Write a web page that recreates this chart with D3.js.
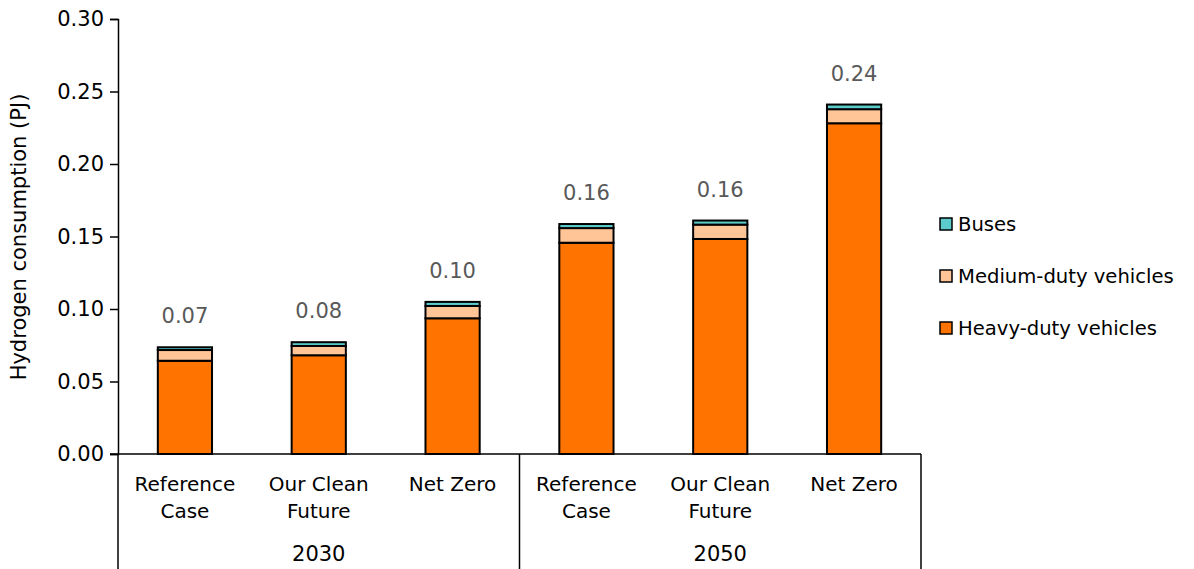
<!DOCTYPE html>
<html>
<head>
<meta charset="utf-8">
<script src="https://cdn.jsdelivr.net/npm/d3@7"></script>
<style>
  html, body { margin: 0; padding: 0; background: #fff; }
  svg { display: block; font-family: "DejaVu Sans", sans-serif; }
</style>
</head>
<body>
<svg id="chart" width="1194" height="569"></svg>
<script>
// Scenario categories, grouped by year
const scenarios = ["Reference Case", "Our Clean Future", "Net Zero", "Reference Case", "Our Clean Future", "Net Zero"];
const years = ["2030", "2030", "2030", "2050", "2050", "2050"];
const yearGroups = ["2030", "2050"];

// Hydrogen consumption by vehicle class (PJ)
const heavyDuty = [0.0643, 0.0681, 0.0936, 0.1457, 0.1483, 0.2281];
const mediumDuty = [0.0074, 0.0064, 0.0085, 0.0101, 0.0099, 0.0097];
const buses = [0.0019, 0.0026, 0.0028, 0.0028, 0.0028, 0.0032];

const yTicks = [0, 0.05, 0.10, 0.15, 0.20, 0.25, 0.30];
const seriesNames = ["Heavy-duty vehicles", "Medium-duty vehicles", "Buses"];
const seriesColors = ["#FF7300", "#FFC597", "#5CCBCB"];

const svg = d3.select("#chart");
const margin = { left: 118, right: 921, top: 19, bottom: 454 };

const rows = scenarios.map((s, i) => ({
  key: i, scenario: s, year: years[i],
  "Heavy-duty vehicles": heavyDuty[i],
  "Medium-duty vehicles": mediumDuty[i],
  "Buses": buses[i]
}));

const x = d3.scaleBand().domain(rows.map(d => d.key))
  .range([margin.left, margin.right]).paddingInner(0.595).paddingOuter(0.2975);
const y = d3.scaleLinear().domain([0, 0.30]).range([margin.bottom, margin.top]);

const stack = d3.stack().keys(seriesNames)(rows);

// Stacked bars
const layers = svg.append("g").selectAll("g").data(stack).join("g")
  .attr("fill", (d, i) => seriesColors[i]);
layers.selectAll("rect").data(d => d).join("rect")
  .attr("x", d => x(d.data.key))
  .attr("width", x.bandwidth())
  .attr("y", d => y(d[1]))
  .attr("height", d => y(d[0]) - y(d[1]))
  .attr("stroke", "#000").attr("stroke-width", 2);

// Y axis
const yAxis = d3.axisLeft(y).tickValues(yTicks).tickFormat(d3.format(".2f")).tickSize(8).tickPadding(6);
const yg = svg.append("g").attr("transform", `translate(${margin.left},0)`).call(yAxis);
yg.select(".domain").attr("stroke", "#000").attr("stroke-width", 1.5);
yg.selectAll(".tick line").attr("stroke", "#000").attr("stroke-width", 1.5);
yg.selectAll(".tick text").attr("font-size", 21).attr("fill", "#000")
  .attr("font-family", "DejaVu Sans, sans-serif");

// X axis line
svg.append("line").attr("x1", margin.left - 8).attr("x2", margin.right)
  .attr("y1", margin.bottom).attr("y2", margin.bottom)
  .attr("stroke", "#000").attr("stroke-width", 1.5);

// Group separators
const sepX = [margin.left, (x(2) + x.bandwidth() + x(3)) / 2, margin.right];
svg.append("g").selectAll("line").data(sepX).join("line")
  .attr("x1", d => d).attr("x2", d => d)
  .attr("y1", margin.bottom).attr("y2", 569)
  .attr("stroke", "#000").attr("stroke-width", 1.5);

// Scenario labels
const catLabels = svg.append("g").selectAll("text").data(rows).join("text")
  .attr("text-anchor", "middle").attr("font-size", 20).attr("fill", "#000");
catLabels.each(function (d) {
  const cx = x(d.key) + x.bandwidth() / 2;
  const words = d.scenario === "Net Zero" ? ["Net Zero"]
    : d.scenario === "Reference Case" ? ["Reference", "Case"] : ["Our Clean", "Future"];
  d3.select(this).selectAll("tspan").data(words).join("tspan")
    .attr("x", cx).attr("y", (w, i) => 491 + i * 27).text(w => w);
});

// Year labels
svg.append("g").selectAll("text").data(yearGroups).join("text")
  .attr("x", (g, i) => (sepX[i] + sepX[i + 1]) / 2)
  .attr("y", 561).attr("text-anchor", "middle")
  .attr("font-size", 21).attr("fill", "#000").text(g => g);

// Total labels above bars
svg.append("g").selectAll("text").data(rows).join("text")
  .attr("x", d => x(d.key) + x.bandwidth() / 2)
  .attr("y", d => y(d["Heavy-duty vehicles"] + d["Medium-duty vehicles"] + d["Buses"]) - 24)
  .attr("text-anchor", "middle").attr("font-size", 21).attr("fill", "#595959")
  .text(d => d3.format(".2f")(d["Heavy-duty vehicles"] + d["Medium-duty vehicles"] + d["Buses"]));

// Legend
const legendItems = ["Buses", "Medium-duty vehicles", "Heavy-duty vehicles"];
const lg = svg.append("g").selectAll("g").data(legendItems).join("g")
  .attr("transform", (d, i) => `translate(940,${224 + i * 52})`);
lg.append("rect").attr("x", 0).attr("y", -6).attr("width", 12).attr("height", 12)
  .attr("fill", d => seriesColors[seriesNames.indexOf(d)])
  .attr("stroke", "#000").attr("stroke-width", 1.5);
lg.append("text").attr("x", 18).attr("y", 7).attr("font-size", 19.6).attr("fill", "#000").text(d => d);

// Y axis title
svg.append("text").attr("transform", "translate(26,237) rotate(-90)")
  .attr("text-anchor", "middle").attr("font-size", 21).attr("fill", "#000")
  .text("Hydrogen consumption (PJ)");
</script>
</body>
</html>
